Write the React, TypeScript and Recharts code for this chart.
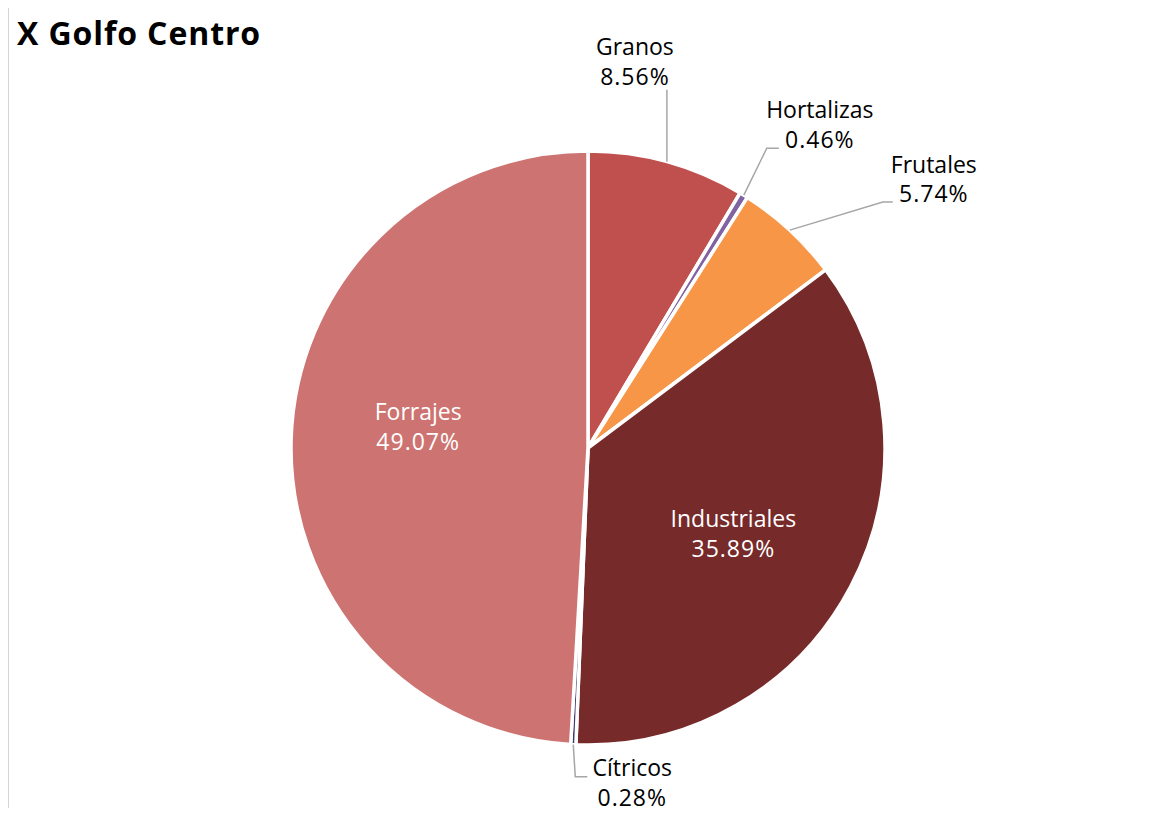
import React from 'react';
import { PieChart, Pie, Cell } from 'recharts';

const TITLE = 'X Golfo Centro';
const categories = ['Granos', 'Hortalizas', 'Frutales', 'Industriales', 'Cítricos', 'Forrajes'];
const shares = [8.56, 0.46, 5.74, 35.89, 0.28, 49.07];
const colors = ['#C0504D', '#8064A2', '#F79646', '#772A2A', '#3E3A6B', '#CD7371'];

const data = categories.map((name, i) => ({ name, value: shares[i] }));

// label layout (annotation placement, relative to the slice edge point computed by Recharts)
const outsideLayout: Record<string, { elbow: [number, number]; run: number; tx: number; ty: [number, number] }> = {
  Granos: { elbow: [0, -72], run: 0, tx: -32, ty: [-35, -5] },
  Hortalizas: { elbow: [23, -47], run: 12, tx: 41, ty: [-30, 0] },
  Frutales: { elbow: [93, -28], run: 10, tx: 41, ty: [-29, 0] },
  'Cítricos': { elbow: [2, 32], run: 12, tx: 45, ty: [-1, 29] },
};
const insideLayout: Record<string, { dx: number; ty: [number, number] }> = {
  Forrajes: { dx: 0, ty: [-23, 7] },
  Industriales: { dx: -5, ty: [0, 30] },
};

const RAD = Math.PI / 180;
const FONT = '"Open Sans", "Noto Sans", sans-serif';

const renderLabel = (props: any) => {
  const { cx, cy, midAngle, outerRadius, name, value } = props;
  const pct = `${Number(value).toFixed(2)}%`;
  const cos = Math.cos(-midAngle * RAD);
  const sin = Math.sin(-midAngle * RAD);
  if (insideLayout[name]) {
    const l = insideLayout[name];
    const r = outerRadius * 0.572;
    const x = cx + r * cos + l.dx;
    const y = cy + r * sin;
    return (
      <g key={name}>
        <text x={x} y={y + l.ty[0]} textAnchor="middle" fill="#FFFFFF" fontFamily={FONT} fontSize={23}>{name}</text>
        <text x={x} y={y + l.ty[1]} textAnchor="middle" fill="#FFFFFF" fontFamily={FONT} fontSize={23} letterSpacing={1}>{pct}</text>
      </g>
    );
  }
  const l = outsideLayout[name];
  if (!l) return null;
  const ex = cx + outerRadius * cos;
  const ey = cy + outerRadius * sin;
  const bx = ex + l.elbow[0];
  const by = ey + l.elbow[1];
  const endX = bx + l.run;
  const endY = by;
  const tx = endX + l.tx;
  return (
    <g key={name}>
      <polyline points={`${ex},${ey} ${bx},${by} ${endX},${endY}`} fill="none" stroke="#A6A6A6" strokeWidth={1.5} />
      <text x={tx} y={endY + l.ty[0]} textAnchor="middle" fill="#000000" fontFamily={FONT} fontSize={23}>{name}</text>
      <text x={tx} y={endY + l.ty[1]} textAnchor="middle" fill="#000000" fontFamily={FONT} fontSize={23} letterSpacing={1}>{pct}</text>
    </g>
  );
};

export default function App() {
  return (
    <div style={{ position: 'relative', width: 1143, height: 800 }}>
      <svg style={{ position: 'absolute', left: -8, top: -8, zIndex: 3 }} width={1159} height={20}>
        <line x1={7} y1={4.5} x2={1159} y2={4.5} stroke="#CFCFCF" strokeWidth={2} />
      </svg>
      <svg style={{ position: 'absolute', left: 0, top: 0 }} width={400} height={60}>
        <text x={9} y={37} fontFamily={FONT} fontWeight={700} fontSize={32} letterSpacing={0.9} fill="#000000">{TITLE}</text>
      </svg>
      <div style={{ position: 'absolute', left: 0, top: 0 }}>
        <PieChart width={1151} height={808} margin={{ top: 0, right: 0, bottom: 0, left: 0 }}>
          <Pie
            data={data}
            dataKey="value"
            nameKey="name"
            cx={580}
            cy={440}
            outerRadius={297}
            startAngle={90}
            endAngle={-270}
            stroke="#FFFFFF"
            strokeWidth={3.5}
            label={renderLabel}
            labelLine={false}
            isAnimationActive={false}
          >
            {data.map((d, i) => (
              <Cell key={d.name} fill={colors[i]} />
            ))}
          </Pie>
        </PieChart>
      </div>
      <div style={{ position: 'absolute', left: -1, top: -3, width: 2, height: 811, background: '#D4D4D4', zIndex: 2 }} />
    </div>
  );
}
